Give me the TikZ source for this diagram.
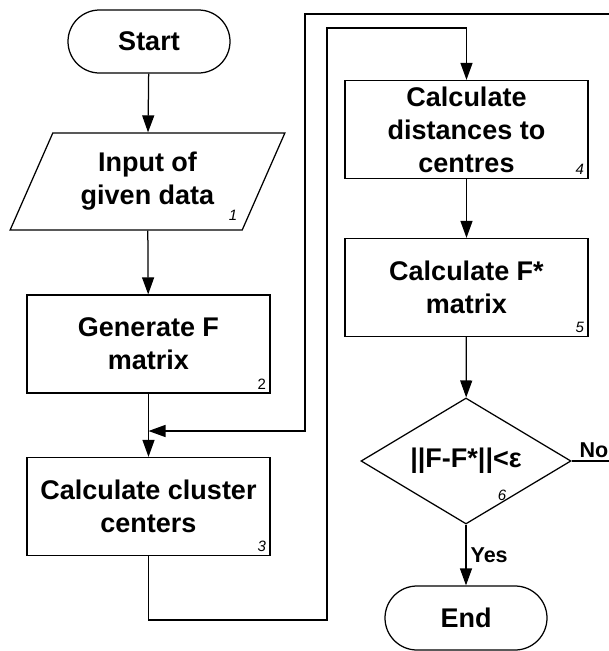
\documentclass[tikz,border=0pt]{standalone}
\usepackage{fontspec}
\setmainfont{Liberation Sans}
\usepackage{tikz}
\usetikzlibrary{arrows.meta,shapes.geometric,shapes.misc}

\begin{document}
\begin{tikzpicture}[x=1pt,y=-1pt,line width=1.25pt,>={Triangle[length=17pt,width=12pt]},
  font=\fontsize{27}{33}\selectfont\bfseries,
  term/.style={draw,rounded rectangle,minimum width=162pt,minimum height=63pt,inner sep=0pt},
  box/.style={draw,align=center,minimum width=243pt,minimum height=98pt,inner sep=0pt},
  num/.style={font=\fontsize{15}{15}\selectfont\itshape,anchor=south east,inner sep=4pt},
  lbl/.style={font=\fontsize{21.5}{24}\selectfont\bfseries,inner sep=0pt}]
 \useasboundingbox (0,0) rectangle (609,651);
 \node[term] (start) at (149,41.5) {Start};
 \node[draw,trapezium,trapezium left angle=62.7,trapezium right angle=117.3,trapezium stretches=true,
   minimum width=275pt,minimum height=97pt,inner sep=0pt,align=center] (input) at (147.5,181.5) {Input of\\given data};
 \node[num,anchor=center] (n1) at (233,215) {1};
 \node[box] (gen) at (148.5,344) {Generate F\\matrix};
 \node[num,font=\fontsize{15}{15}\selectfont] (n2) at (gen.south east) {2};
 \node[box] (clust) at (148.5,506.5) {Calculate cluster\\centers};
 \node[num] (n3) at (clust.south east) {3};
 \node[box] (dist) at (466.5,129.5) {Calculate\\distances to\\centres};
 \node[num] (n4) at (dist.south east) {4};
 \node[box] (fstar) at (466.5,287.5) {Calculate F*\\matrix};
 \node[num] (n5) at (fstar.south east) {5};
 \node[draw,diamond,aspect=1.6,minimum width=210pt,minimum height=126pt,inner sep=0pt] (check) at (466,461) {||F-F*||<ε};
 \node[num,anchor=center] (n6) at (502,495) {6};
 \node[term,minimum height=64pt] (end) at (466,618) {End};
 % main flow
 \draw[->] (start) -- (input);
 \draw[->] (input) -- (gen);
 \coordinate (merge) at (148.5,431);
 \draw[->] (gen) -- (clust);
 \draw[->] (dist) -- (fstar);
 \draw[->] (fstar) -- (check);
 \draw[->] (check) -- node[lbl,anchor=west,xshift=4pt]{Yes} (end);
 % loop from the centres to the distances
 \coordinate (loopbl) at (148.5,620);
 \coordinate (loopbr) at (327,620);
 \coordinate (looptl) at (327,28);
 \draw[->] (clust.south) -- (loopbl) -- (loopbr) -- (looptl) -| (dist.north);
 % no: back to the cluster centres
 \coordinate (notr) at (612,14);
 \coordinate (notl) at (305,14);
 \draw[->] (check.east) -| (notr) -- (notl) |- (merge);
 \node[lbl,anchor=base west] (no) at (579,457) {No};
\end{tikzpicture}
\end{document}
